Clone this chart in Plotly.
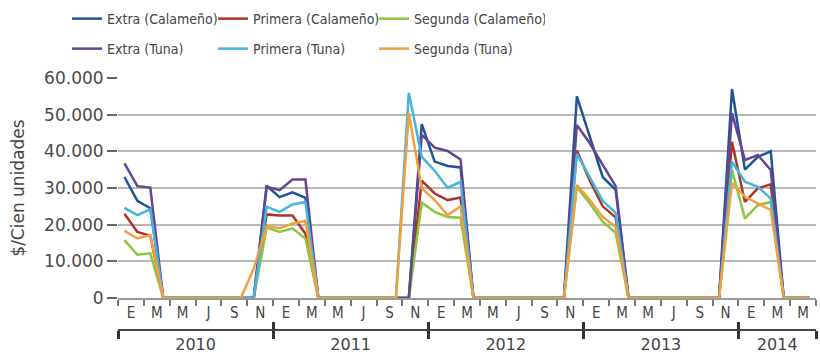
import plotly.graph_objects as go

# ---- data (monthly, Jan 2010 .. Jun 2014) ----
months = list(range(54))

extra_calameno = [33000, 26500, 24500,
                  0, 0, 0, 0, 0, 0, 0, 0,
                  30600, 27500, 28800, 27300,
                  0, 0, 0, 0, 0, 0, 0, 0,
                  47400, 37200, 36000, 35600,
                  0, 0, 0, 0, 0, 0, 0, 0,
                  55000, 44000, 33000, 29500,
                  0, 0, 0, 0, 0, 0, 0, 0,
                  57000, 35000, 38500, 40000,
                  0, 0, 0]

primera_calameno = [23000, 18000, 17000,
                    0, 0, 0, 0, 0, 0, 0, 0,
                    22800, 22500, 22500, 17500,
                    0, 0, 0, 0, 0, 0, 0, 0,
                    32000, 28500, 26700, 27400,
                    0, 0, 0, 0, 0, 0, 0, 0,
                    40200, 32000, 25000, 22000,
                    0, 0, 0, 0, 0, 0, 0, 0,
                    42600, 26200, 29900, 31000,
                    0, 0, 0]

segunda_calameno = [15800, 11800, 12200,
                    0, 0, 0, 0, 0, 0, 0, 0,
                    19200, 18000, 19000, 16200,
                    0, 0, 0, 0, 0, 0, 0, 0,
                    26000, 23500, 22100, 21900,
                    0, 0, 0, 0, 0, 0, 0, 0,
                    30300, 25800, 20800, 17800,
                    0, 0, 0, 0, 0, 0, 0, 0,
                    34900, 21700, 25300, 26200,
                    0, 0, 0]

extra_tuna = [36700, 30500, 30100,
              0, 0, 0, 0, 0, 0, 0, 0,
              30300, 29400, 32300, 32300,
              0, 0, 0, 0, 0, 0, 0, 0,
              44500, 41000, 40100, 37800,
              0, 0, 0, 0, 0, 0, 0, 0,
              47200, 42200, 36300, 30500,
              0, 0, 0, 0, 0, 0, 0, 0,
              50400, 37600, 39000, 34900,
              0, 0, 0]

primera_tuna = [24600, 22600, 24200,
                0, 0, 0, 0, 0, 0, 0, 0,
                24900, 23500, 25500, 26200,
                0, 0, 0, 0, 0, 0, 0,
                56000,
                38500, 34700, 30000, 31700,
                0, 0, 0, 0, 0, 0, 0, 0,
                39300, 33000, 26500, 23200,
                0, 0, 0, 0, 0, 0, 0, 0,
                37200, 31700, 30300, 27200,
                0, 0, 0]

segunda_tuna = [18300, 16300, 17100,
                0, 0, 0, 0, 0, 0, 0,
                8000,
                19600, 19000, 20300, 21000,
                0, 0, 0, 0, 0, 0, 0,
                50400,
                29900, 26700, 22600, 25000,
                0, 0, 0, 0, 0, 0, 0, 0,
                30800, 26700, 22100, 19400,
                0, 0, 0, 0, 0, 0, 0, 0,
                31300, 27600, 25800, 24000,
                0, 0, 0]

# ---- axis labels ----
month_tick_pos = [0.5 + 2 * k for k in range(27)]
month_labels = ["E", "M", "M", "J", "S", "N"] * 4 + ["E", "M", "M"]
month_bounds = [-0.5 + 2 * k for k in range(28)]
year_bounds = [-0.5, 11.5, 23.5, 35.5, 47.5, 53.5]
year_centers = [5.5, 17.5, 29.5, 41.5, 50.5]
year_labels = ["2010", "2011", "2012", "2013", "2014"]
y_ticks = [0, 10000, 20000, 30000, 40000, 50000, 60000]
y_labels = ["0", "10.000", "20.000", "30.000", "40.000", "50.000", "60.000"]

series = [
    ("Extra (Calameño)", extra_calameno, "#1f5496", "legend", 101),
    ("Primera (Calameño)", primera_calameno, "#ad3428", "legend", 116),
    ("Segunda (Calameño)", segunda_calameno, "#8cc63e", "legend", 126),
    ("Extra (Tuna)", extra_tuna, "#63468f", "legend2", 101),
    ("Primera (Tuna)", primera_tuna, "#45b5e0", "legend2", 116),
    ("Segunda (Tuna)", segunda_tuna, "#f2a03d", "legend2", 126),
]

fig = go.Figure()
for name, vals, color, leg, lw in series:
    fig.add_trace(go.Scatter(x=months, y=vals, mode="lines", name=name,
                             line=dict(color=color, width=2.5), legend=leg, legendwidth=lw))

# empty carriers so the year axis (x2) and its inner ticks (x3) are drawn
for ax in ["x2", "x3"]:
    fig.add_trace(go.Scatter(x=[year_bounds[0], year_bounds[-1]], y=[None, None], xaxis=ax, yaxis="y",
                             mode="lines", showlegend=False, hoverinfo="skip"))

TXT = "#444444"
CONDENSED = "DejaVu Sans Condensed, DejaVu Sans"
LEGFONT = dict(family=CONDENSED, size=14, color=TXT)
rng = [-0.5, 53.5]

fig.update_layout(
    width=820, height=355,
    margin=dict(l=118, r=4, t=78, b=25, pad=0, autoexpand=False),
    paper_bgcolor="white", plot_bgcolor="white",
    font=dict(family="DejaVu Sans", color=TXT),
    showlegend=True,
    yaxis=dict(domain=[0.127, 1], range=[0, 60000], tickvals=y_ticks, ticktext=y_labels,
               ticks="outside", ticklen=10, tickwidth=1.5, tickcolor="#666",
               showgrid=True, gridcolor="#b8b8b8", gridwidth=1.5, zeroline=False, showline=False,
               tickfont=dict(size=17, color="#4a4a4a"),
               title=dict(text="$/Cien unidades", font=dict(size=17, color=TXT), standoff=15)),
    xaxis=dict(anchor="y", range=rng, tickvals=month_tick_pos, ticktext=month_labels,
               ticks="", showline=True, linecolor="#999", linewidth=1.5,
               showgrid=False, zeroline=False,
               tickfont=dict(size=15, color=TXT, family=CONDENSED),
               minor=dict(tickvals=month_bounds, ticks="outside", ticklen=6, tickwidth=1.5, tickcolor="#777")),
    xaxis2=dict(overlaying="x", anchor="free", position=0, range=rng,
                tickvals=year_centers, ticktext=year_labels, ticks="",
                showline=True, linecolor="#444", linewidth=2, showgrid=False, zeroline=False,
                tickfont=dict(size=16, color=TXT),
                minor=dict(tickvals=year_bounds, ticks="outside", ticklen=8, tickwidth=2.5, tickcolor="#333")),
    xaxis3=dict(overlaying="x", anchor="free", position=0, range=rng,
                tickvals=year_bounds, ticks="inside", ticklen=8, tickwidth=2.5, tickcolor="#333",
                showticklabels=False, showline=False, showgrid=False, zeroline=False),
    legend=dict(orientation="h", x=-0.073, xanchor="left", y=1.234, yanchor="middle",
                entrywidthmode="pixels", font=LEGFONT,
                bgcolor="rgba(0,0,0,0)", itemwidth=30),
    legend2=dict(orientation="h", x=-0.073, xanchor="left", y=1.115, yanchor="middle",
                 entrywidthmode="pixels", font=LEGFONT,
                 bgcolor="rgba(0,0,0,0)", itemwidth=30),
)

fig.write_html("out.html", config={"displayModeBar": False},
               post_script="document.body.style.margin='0';")
